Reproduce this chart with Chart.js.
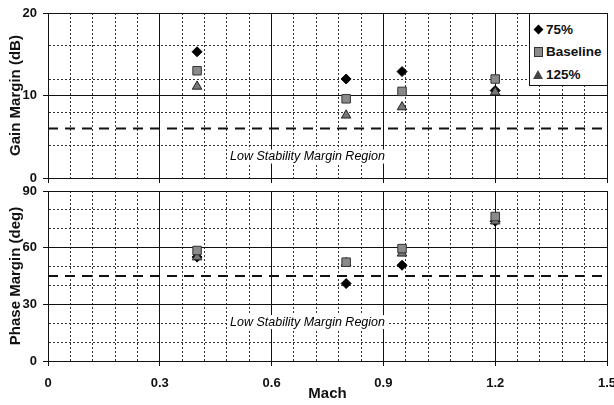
<!DOCTYPE html>
<html>
<head>
<meta charset="utf-8">
<script src="https://cdn.jsdelivr.net/npm/chart.js@4.4.0/dist/chart.umd.min.js"></script>
<style>
  body { margin: 0; background: #fff; width: 614px; height: 405px; overflow: hidden; position: relative; }
  #gainBox { position: absolute; left: 0; top: 0; width: 614px; height: 186px; }
  #phaseBox { position: absolute; left: 0; top: 180px; width: 614px; height: 225px; }
  #legend {
    position: absolute; left: 529px; top: 13px; width: 77px; height: 71px;
    border: 1px solid #111; background: #fff;
    font: bold 13.5px "Liberation Sans", Arial, sans-serif; color: #111;
  }
  #legend .row { position: absolute; left: 0; height: 16px; line-height: 16px; }
  #legend .txt { position: absolute; left: 16px; top: 0; white-space: nowrap; }
  #legend .mk { position: absolute; }
  .mk0 { left: 5px; top: 4px; width: 7px; height: 7px; background: #000; transform: rotate(45deg); }
  .mk1 { left: 4px; top: 3px; width: 7px; height: 8px; background: #8a8a8a; border: 1px solid #333; }
  .mk2 { left: 3px; top: 3px; width: 0; height: 0; border-left: 5px solid transparent; border-right: 5px solid transparent; border-bottom: 9px solid #444; }
</style>
</head>
<body>
<div id="gainBox"><canvas id="gainChart"></canvas></div>
<div id="phaseBox"><canvas id="phaseChart"></canvas></div>
<div id="legend"></div>

<script>
// Data
const machValues = [0.4, 0.8, 0.95, 1.2];
const seriesLabels = ['75%', 'Baseline', '125%'];

const gainMargin75 = [15.3, 12.0, 12.9, 10.6];
const gainMarginBase = [13.0, 9.6, 10.5, 12.0];
const gainMargin125 = [11.1, 7.6, 8.6, 10.4];

const phaseMargin75 = [55, 41, 50.7, 74];
const phaseMarginBase = [58.5, 52.3, 59.5, 76.5];
const phaseMargin125 = [55, 52, 57, 74];

const gainLimit = 6;   // dB, dashed line
const phaseLimit = 45; // deg, dashed line
const machRange = [0, 1.5];

const machTickLabels = ['0', '0.3', '0.6', '0.9', '1.2', '1.5'];
const gainTickLabels = ['0', '10', '20'];
const phaseTickLabels = ['0', '30', '60', '90'];
const regionLabel = 'Low Stability Margin Region';

const tickFont = { family: '"Liberation Sans Narrow", "Liberation Sans", Arial, sans-serif', size: 13, weight: 'bold' };
const titleFont = { family: '"Liberation Sans", Arial, sans-serif', size: 15, weight: 'bold' };
const machFont = { family: '"Liberation Sans Narrow", "Liberation Sans", Arial, sans-serif', size: 15, weight: 'bold' };

function isMultiple(v, step) {
    const r = v / step;
    return Math.abs(r - Math.round(r)) < 1e-6;
}
function fmt(v) {
    return String(+v.toFixed(2));
}

// builds point datasets for one panel
function pointSets(v75, vBase, v125) {
    const xy = arr => arr.map((y, i) => ({ x: machValues[i], y: y }));
    return [
        { label: seriesLabels[0], data: xy(v75), pointStyle: 'rectRot', pointRadius: 5,
          backgroundColor: '#000', borderColor: '#000', borderWidth: 1, order: 3 },
        { label: seriesLabels[1], data: xy(vBase), pointStyle: 'rect', pointRadius: 6,
          backgroundColor: '#8a8a8a', borderColor: '#333', borderWidth: 1, order: 1 },
        { label: seriesLabels[2], data: xy(v125), pointStyle: 'triangle', pointRadius: 5.5,
          backgroundColor: '#777', borderColor: '#222', borderWidth: 1, order: 2 }
    ];
}

function limitSet(limit) {
    return {
        type: 'line', data: machRange.map(x => ({ x: x, y: limit })),
        borderColor: '#111', borderWidth: 2, borderDash: [10, 7],
        pointRadius: 0, fill: false, order: 4
    };
}

// italic note over a white patch
const regionLabelPlugin = {
    id: 'regionLabel',
    afterDatasetsDraw(chart, args, opts) {
        const { ctx, chartArea } = chart;
        const y = chart.scales.y.getPixelForValue(opts.value);
        const x = (chartArea.left + chartArea.right) / 2 - 20;
        ctx.save();
        ctx.font = 'italic 12.5px "Liberation Sans", Arial, sans-serif';
        const w = ctx.measureText(regionLabel).width;
        ctx.fillStyle = '#fff';
        ctx.fillRect(x - w / 2 - 2, y - 7, w + 4, 14);
        ctx.fillStyle = '#000';
        ctx.textAlign = 'center';
        ctx.textBaseline = 'middle';
        ctx.fillText(regionLabel, x, y);
        ctx.restore();
    }
};

function makeOptions(cfg) {
    return {
        responsive: true,
        maintainAspectRatio: false,
        animation: false,
        layout: { padding: { top: cfg.padTop, right: 6, left: 0, bottom: 0 } },
        plugins: {
            legend: { display: false },
            tooltip: { enabled: false },
            regionLabel: { value: cfg.regionValue }
        },
        scales: {
            x: {
                type: 'linear', min: machRange[0], max: machRange[1],
                ticks: {
                    display: cfg.showX, stepSize: 0.06, autoSkip: false, maxRotation: 0,
                    padding: 10, color: '#111', font: tickFont,
                    callback: v => machTickLabels.includes(fmt(v)) ? fmt(v) : ''
                },
                grid: {
                    color: ctx => isMultiple(ctx.tick.value, 0.3) ? '#111' : '#333',
                    lineWidth: 1, tickLength: 5,
                    tickColor: ctx => isMultiple(ctx.tick.value, 0.3) ? '#111' : 'rgba(0,0,0,0)'
                },
                border: {
                    color: '#111', width: 1,
                    dash: ctx => (ctx.tick && !isMultiple(ctx.tick.value, 0.3)) ? [2, 2] : []
                },
                title: {
                    display: cfg.showX, text: 'Mach', color: '#111', font: machFont,
                    padding: { top: 0, bottom: 2 }
                },
                afterFit: s => { s.height = cfg.xHeight; s.paddingLeft = 0; s.paddingRight = 0; }
            },
            y: {
                min: cfg.yMin, max: cfg.yMax,
                ticks: {
                    stepSize: cfg.yStep, autoSkip: false, padding: 6, color: '#111', font: tickFont,
                    callback: v => cfg.yLabels.includes(fmt(v)) ? fmt(v) : ''
                },
                grid: {
                    color: ctx => {
                        const v = ctx.tick.value;
                        if (isMultiple(v, cfg.yMajor) || v === cfg.yMax) return '#111';
                        if (isMultiple(v, cfg.yMinor)) return '#333';
                        return 'rgba(0,0,0,0)';
                    },
                    lineWidth: 1, tickLength: 5,
                    tickColor: ctx => cfg.yLabels.includes(fmt(ctx.tick.value)) ? '#111' : 'rgba(0,0,0,0)'
                },
                border: {
                    color: '#111', width: 1,
                    dash: ctx => {
                        if (!ctx.tick) return [];
                        const v = ctx.tick.value;
                        return (isMultiple(v, cfg.yMajor) || v === cfg.yMax) ? [] : [2, 2];
                    }
                },
                title: {
                    display: true, text: cfg.title, color: '#111', font: titleFont,
                    padding: { top: 7, bottom: 0 }
                },
                afterFit: s => { s.width = 48; s.paddingTop = 0; s.paddingBottom = 0; }
            }
        }
    };
}

new Chart(document.getElementById('gainChart'), {
    type: 'scatter',
    data: { datasets: pointSets(gainMargin75, gainMarginBase, gainMargin125).concat([limitSet(gainLimit)]) },
    options: makeOptions({
        padTop: 13, xHeight: 8, showX: false,
        yMin: 0, yMax: 20, yStep: 2, yMajor: 10, yMinor: 4,
        yLabels: gainTickLabels, title: 'Gain Margin (dB)', regionValue: 2.6
    }),
    plugins: [regionLabelPlugin]
});

new Chart(document.getElementById('phaseChart'), {
    type: 'scatter',
    data: { datasets: pointSets(phaseMargin75, phaseMarginBase, phaseMargin125).concat([limitSet(phaseLimit)]) },
    options: makeOptions({
        padTop: 11, xHeight: 44, showX: true,
        yMin: 0, yMax: 90, yStep: 10, yMajor: 30, yMinor: 10,
        yLabels: phaseTickLabels, title: 'Phase Margin (deg)', regionValue: 20.6
    }),
    plugins: [regionLabelPlugin]
});

// HTML legend, one row per series
const legendEl = document.getElementById('legend');
const rowTops = [8, 30, 53];
seriesLabels.forEach((label, i) => {
    const row = document.createElement('div');
    row.className = 'row';
    row.style.top = rowTops[i] + 'px';
    const mk = document.createElement('div');
    mk.className = 'mk mk' + i;
    const txt = document.createElement('span');
    txt.className = 'txt';
    txt.textContent = label;
    row.appendChild(mk);
    row.appendChild(txt);
    legendEl.appendChild(row);
});
</script>
</body>
</html>
